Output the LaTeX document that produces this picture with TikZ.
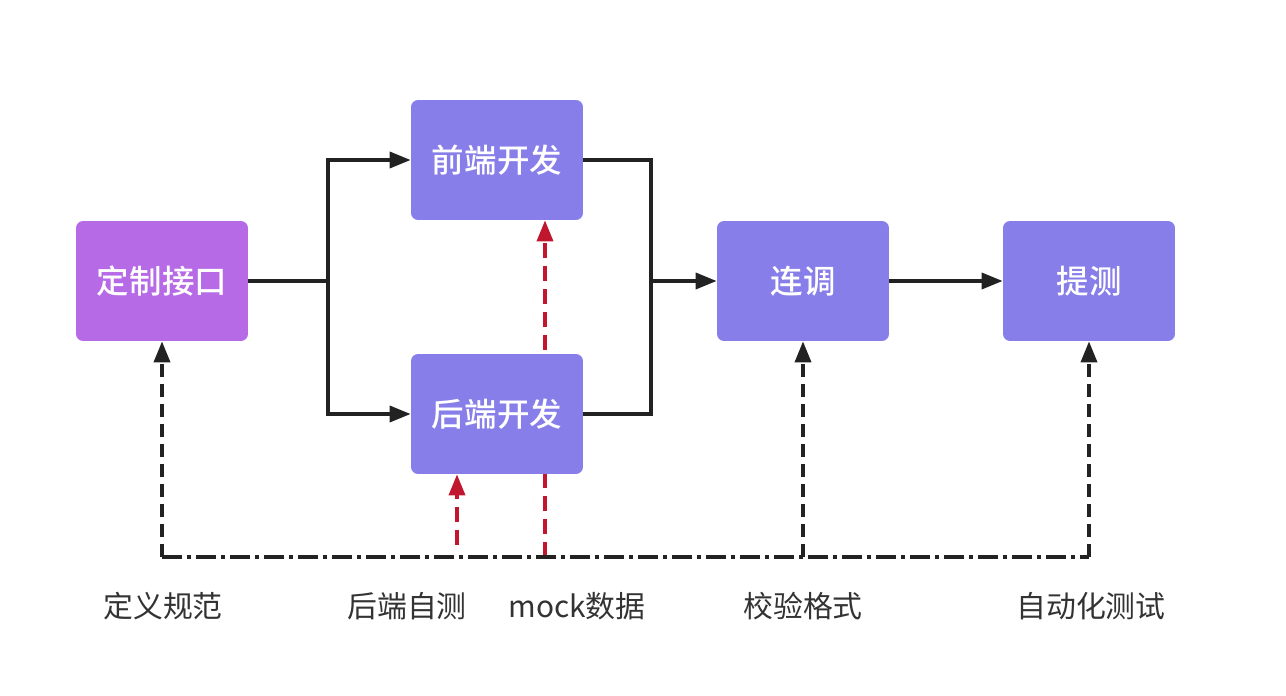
\documentclass[tikz,border=0pt]{standalone}
\usepackage{fontspec}
\setmainfont{Noto Sans CJK SC}
\newfontfamily\boxfont{Noto Sans CJK SC Medium}
\usetikzlibrary{arrows.meta,backgrounds}

\definecolor{boxpurple}{HTML}{877EE9}
\definecolor{boxmagenta}{HTML}{B66AE6}
\definecolor{mockred}{HTML}{C0172F}
\definecolor{linegray}{HTML}{222222}

\tikzset{
    stepbox/.style={fill=boxpurple, rounded corners=4pt, text=white,
        minimum width=3.44cm, minimum height=2.4cm,
        font=\boxfont\fontsize{18.5}{20}\selectfont},
    flow/.style={draw=linegray, line width=2pt},
    tip/.style={-{Triangle[length=0.42cm,width=0.32cm]}},
    check/.style={flow, tip, dash pattern=on 0.26cm off 0.14cm},
    mockline/.style={draw=mockred, line width=2pt, tip,
        dash pattern=on 0.3cm off 0.16cm},
    base/.style={flow, line width=2pt,
        dash pattern=on 0.4cm off 0.1cm on 0.08cm off 0.1cm},
    caption/.style={text=black!80, font=\fontsize{17}{19}\selectfont}
}

\begin{document}
\begin{tikzpicture}[x=0.02cm, y=-0.02cm]
    \useasboundingbox (0,0) rectangle (1286,696);

    % boxes
    \node[stepbox, fill=boxmagenta] (dz) at (162,281) {定制接口};
    \node[stepbox] (qd) at (497,160) {前端开发};
    \node[stepbox] (hd) at (497,414) {后端开发};
    \node[stepbox] (lt) at (803,281) {连调};
    \node[stepbox] (tc) at (1089,281) {提测};

    % main flow
    \coordinate (split) at (328,281);
    \coordinate (join) at (651,281);
    \draw[flow] (dz.east) -- (split);
    \draw[flow, tip] (split) |- (qd.west);
    \draw[flow, tip] (split) |- (hd.west);
    \draw[flow] (qd.east) -| (join);
    \draw[flow] (hd.east) -| (join);
    \draw[flow, tip] (join) -- (lt.west);
    \draw[flow, tip] (lt.east) -- (tc.west);

    % bottom line and checks
    \coordinate (left) at (162,557);
    \coordinate (right) at (1089,557);
    \coordinate (selftest) at (457,545);
    \coordinate (mock) at (545,557);
    \draw[base] (left) -- (right);
    \draw[check] (left) -- (dz.south);
    \draw[check] (left -| lt) -- (lt.south);
    \draw[check] (right) -- (tc.south);
    \draw[mockline] (selftest) -- (selftest |- hd.south);
    \begin{scope}[on background layer]
        \draw[mockline] (mock) -- (mock |- qd.south);
    \end{scope}

    % captions
    \node[caption] (c1) at (163,606) {定义规范};
    \node[caption] (c2) at (407,606) {后端自测};
    \node[caption] (c3) at (577,606) {mock数据};
    \node[caption] (c4) at (803,606) {校验格式};
    \node[caption] (c5) at (1091,606) {自动化测试};
\end{tikzpicture}
\end{document}
